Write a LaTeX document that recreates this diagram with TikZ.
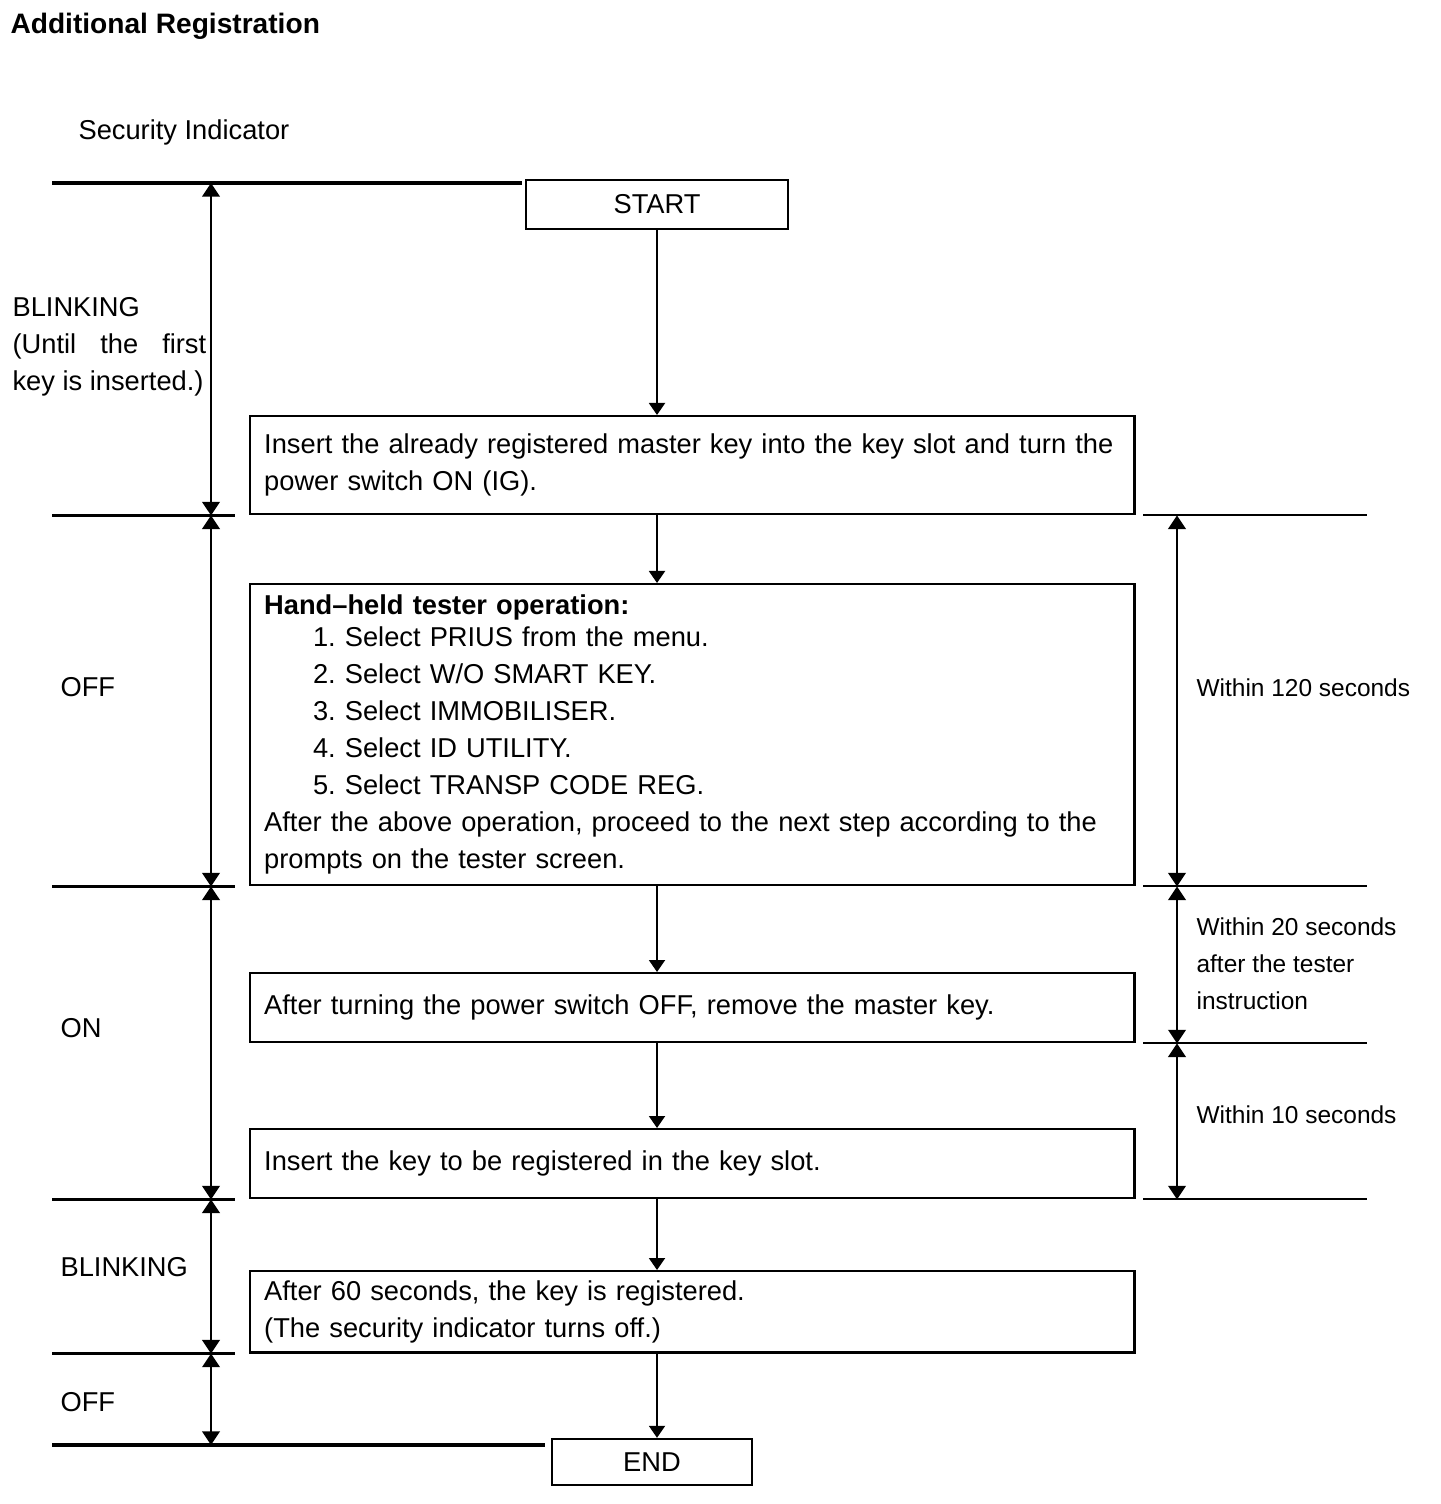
\documentclass[tikz,border=0pt]{standalone}
\usepackage{fontspec}
\setmainfont{Liberation Sans}
\usetikzlibrary{arrows.meta}

\begin{document}
\frenchspacing
\begin{tikzpicture}[x=0.0125cm, y=-0.0125cm]

\tikzset{
    txt/.style = {font=\fontsize{9.7}{13.16}\selectfont},
    timetxt/.style = {font=\fontsize{8.7}{13.16}\selectfont},
    lbl/.style = {inner sep=0pt},
    stepbox/.style = {
    draw, line width=0.85pt, txt,
    anchor=north west,
    minimum width=11.05cm,
    text width=10.7cm,
    inner xsep=0.175cm,
    align=left
    }
}

\tikzstyle{endbox}=[draw, line width=0.85pt, txt, minimum height=0.6cm]
\tikzstyle{flow}=[line width=0.7pt, -{Triangle[length=1.5mm,width=2mm]}]
\tikzstyle{dimarrow}=[line width=0.7pt, {Triangle[length=1.7mm,width=2.2mm]}-{Triangle[length=1.7mm,width=2.2mm]}]
\tikzstyle{stateline}=[line width=1.1pt]
\tikzstyle{timeline}=[line width=0.7pt]

\useasboundingbox (0,0) rectangle (1440,1504);

\node[lbl, anchor=base west, font=\bfseries\fontsize{10}{12}\selectfont] (title) at (10,34) {Additional Registration};
\node[lbl, txt, anchor=base west] (indicator) at (78,140) {Security Indicator};

% steps
\node[endbox, minimum width=3.275cm, minimum height=0.6125cm] (start) at (657,204.5) {START};

\node[stepbox, minimum height=1.225cm] (ignon) at (249,415)
{Insert the already registered master key into the key slot and turn the\\
power switch ON (IG).};

\node[stepbox, minimum height=3.7625cm] (tester) at (249,583)
{\textbf{Hand–held tester operation:}\\[-0.06cm]
\hspace*{0.61cm}1. Select PRIUS from the menu.\\
\hspace*{0.61cm}2. Select W/O SMART KEY.\\
\hspace*{0.61cm}3. Select IMMOBILISER.\\
\hspace*{0.61cm}4. Select ID UTILITY.\\
\hspace*{0.61cm}5. Select TRANSP CODE REG.\\
After the above operation, proceed to the next step according to the\\
prompts on the tester screen.};

\node[stepbox, minimum height=0.8625cm] (keyout) at (249,972)
{After turning the power switch OFF, remove the master key.};

\node[stepbox, minimum height=0.8625cm] (newkey) at (249,1128)
{Insert the key to be registered in the key slot.};

\node[stepbox, minimum height=1.0125cm] (done) at (249,1270)
{After 60 seconds, the key is registered.\\
(The security indicator turns off.)};

\node[endbox, minimum width=2.5cm, minimum height=0.575cm] (finish) at (652,1462) {END};

\coordinate (mx) at (657,0);
\draw[flow] (start.south) -- (start.south |- ignon.north);
\draw[flow] (ignon.south -| mx) -- (tester.north -| mx);
\draw[flow] (tester.south -| mx) -- (keyout.north -| mx);
\draw[flow] (keyout.south -| mx) -- (newkey.north -| mx);
\draw[flow] (newkey.south -| mx) -- (done.north -| mx);
\draw[flow] (done.south -| mx) -- (finish.north -| mx);

% security indicator states
\coordinate (lx) at (211,0);
\coordinate (la) at (52,0);
\coordinate (lb) at (235,0);
\coordinate (l0) at (211,183);
\coordinate (l1) at (ignon.south -| lx);
\coordinate (l2) at (tester.south -| lx);
\coordinate (l3) at (newkey.south -| lx);
\coordinate (l4) at (done.south -| lx);
\coordinate (l5) at (211,1445);

\draw[stateline] (la |- l0) -- (522,183);
\draw[stateline] (la |- l1) -- (lb |- l1);
\draw[stateline] (la |- l2) -- (lb |- l2);
\draw[stateline] (la |- l3) -- (lb |- l3);
\draw[stateline] (la |- l4) -- (lb |- l4);
\draw[stateline] (la |- l5) -- (545,1445);

\draw[dimarrow] (l0) -- (l1);
\draw[dimarrow] (l1) -- (l2);
\draw[dimarrow] (l2) -- (l3);
\draw[dimarrow] (l3) -- (l4);
\draw[dimarrow] (l4) -- (l5);

\node[lbl, txt, anchor=west, align=left] (blink1) at (12,347)
{BLINKING\\\makebox[2.42cm][s]{(Until the first}\\key is inserted.)};
\node[lbl, txt, anchor=base west] (off1) at (60,696) {OFF};
\node[lbl, txt, anchor=base west] (on) at (60,1037.5) {ON};
\node[lbl, txt, anchor=base west] (blink2) at (60,1276.5) {BLINKING};
\node[lbl, txt, anchor=base west] (off2) at (60,1411.5) {OFF};

% time limits
\coordinate (rx) at (1177,0);
\coordinate (ra) at (1143,0);
\coordinate (rb) at (1367,0);
\coordinate (r0) at (ignon.south -| rx);
\coordinate (r1) at (tester.south -| rx);
\coordinate (r2) at (keyout.south -| rx);
\coordinate (r3) at (newkey.south -| rx);

\draw[timeline] (ra |- r0) -- (rb |- r0);
\draw[timeline] (ra |- r1) -- (rb |- r1);
\draw[timeline] (ra |- r2) -- (rb |- r2);
\draw[timeline] (ra |- r3) -- (rb |- r3);

\draw[dimarrow] (r0) -- (r1);
\draw[dimarrow] (r1) -- (r2);
\draw[dimarrow] (r2) -- (r3);

\node[lbl, timetxt, anchor=base west] (t120) at (1196,696.5) {Within 120 seconds};
\node[lbl, timetxt, anchor=west, align=left] (t20) at (1196,964)
{Within 20 seconds\\after the tester\\instruction};
\node[lbl, timetxt, anchor=base west] (t10) at (1196,1123.5) {Within 10 seconds};

\end{tikzpicture}
\end{document}
